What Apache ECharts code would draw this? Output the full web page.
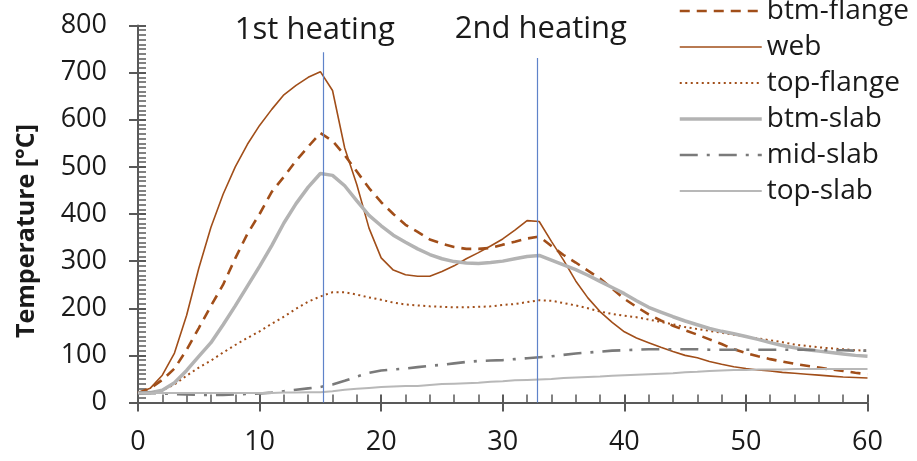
<!DOCTYPE html>
<html>
<head>
<meta charset="utf-8">
<script src="https://cdn.jsdelivr.net/npm/echarts@6/dist/echarts.min.js"></script>
<style>
  html, body { margin: 0; padding: 0; background: #fff; }
  #chart { width: 917px; height: 461px; }
</style>
</head>
<body>
<div id="chart"></div>
<script>
// Time axis (minutes) shared by every curve
const minutes = Array.from({ length: 61 }, (_, i) => i);

// Measured temperatures (°C) at each minute
const btmFlange = [20, 30, 48, 72, 112, 158, 205, 250, 306, 358, 400, 447, 479, 513, 543, 572,
  555, 525, 490, 455, 425, 400, 377, 362, 346, 337, 330, 326, 326, 328, 335, 341, 348, 352,
  332, 313, 297, 280, 263, 242, 220, 203, 187, 174, 163, 153, 144, 134, 124, 113, 105, 98,
  92, 87, 82, 78, 74, 70, 67, 63, 60];
const web = [20, 30, 58, 105, 185, 285, 372, 442, 500, 548, 588, 622, 653, 673, 690, 702,
  662, 540, 462, 370, 307, 281, 271, 268, 268, 278, 290, 305, 318, 332, 347, 366, 386, 384,
  342, 302, 258, 222, 193, 170, 150, 137, 127, 117, 108, 100, 95, 87, 81, 76, 72, 69,
  67, 64, 62, 60, 58, 56, 54, 53, 52];
const topFlange = [20, 22, 26, 38, 57, 74, 89, 106, 122, 137, 151, 167, 182, 199, 214, 225,
  234, 234, 229, 223, 218, 212, 208, 206, 204, 203, 202, 202, 203, 204, 207, 209, 213, 217,
  216, 211, 206, 200, 193, 188, 184, 181, 176, 171, 166, 160, 156, 152, 148, 144, 140, 136,
  132, 128, 123, 120, 117, 115, 113, 111, 110];
const btmSlab = [20, 21, 26, 42, 68, 98, 127, 165, 205, 247, 289, 333, 381, 422, 457, 486,
  482, 460, 428, 397, 375, 355, 340, 326, 314, 305, 299, 296, 295, 297, 300, 305, 310, 312,
  302, 292, 282, 270, 257, 244, 231, 216, 202, 192, 182, 173, 165, 157, 151, 146, 140, 134,
  127, 121, 116, 112, 109, 106, 103, 100, 98];
const midSlab = [20, 20, 19, 18, 17, 16, 16, 16, 17, 18, 19, 21, 24, 27, 30, 33,
  38, 46, 55, 63, 68, 70, 72, 75, 78, 80, 83, 86, 88, 89, 90, 92, 94, 96,
  98, 101, 104, 106, 108, 110, 111, 112, 113, 113, 113, 113, 113, 112, 112, 112, 112, 112,
  112, 112, 112, 112, 111, 111, 111, 110, 110];
const topSlab = [20, 20, 20, 20, 20, 20, 20, 20, 20, 20, 20, 20, 21, 21, 22, 22,
  24, 27, 29, 31, 33, 34, 35, 35, 37, 39, 40, 41, 42, 44, 45, 47, 48, 49,
  50, 52, 53, 54, 55, 57, 58, 59, 60, 61, 62, 64, 65, 67, 68, 69, 69, 70,
  70, 70, 71, 71, 71, 71, 71, 71, 71];

// End of each heating phase (minutes) and its caption
const heatingEnds = [15.2, 32.8];
const heatingTops = [743, 731];
const heatingLabels = ['1st heating', '2nd heating'];

const FONT = '"Open Sans", "Noto Sans", sans-serif';
const BROWN = '#a14e19';
const AXIS = '#595959';

const pairs = arr => minutes.map((t, i) => [t, arr[i]]);

// Line styles for each curve (also reused by its legend entry)
const styles = {
  'btm-flange': { color: BROWN, width: 2.6, type: [10, 7] },
  'web': { color: BROWN, width: 1.6, type: 'solid' },
  'top-flange': { color: BROWN, width: 2, type: [2, 3.5] },
  'btm-slab': { color: '#b3b3b3', width: 3.5, type: 'solid' },
  'mid-slab': { color: '#7a7a7a', width: 2.6, type: [18, 9, 3, 9] },
  'top-slab': { color: '#b8b8b8', width: 2, type: 'solid' }
};

function curve(name, data) {
  const s = styles[name];
  return {
    name, type: 'line', data: pairs(data), showSymbol: false, symbol: 'none',
    smooth: false, silent: true, animation: false,
    lineStyle: { color: s.color, width: s.width, type: s.type, cap: 'butt' },
    itemStyle: { color: s.color },
    z: 3
  };
}

const series = [
  curve('btm-flange', btmFlange),
  curve('web', web),
  curve('top-flange', topFlange),
  curve('btm-slab', btmSlab),
  curve('mid-slab', midSlab),
  curve('top-slab', topSlab)
];

// Vertical markers at the end of each heating phase
series.push({
  name: 'phases', type: 'line', data: [], silent: true, animation: false,
  markLine: {
    silent: true, symbol: 'none', animation: false,
    lineStyle: { color: '#5f83c9', width: 1.2, type: 'solid' },
    data: heatingEnds.map((t, i) => [
      { coord: [t, 0], label: { show: true, position: 'end', formatter: heatingLabels[i],
          distance: i === 0 ? 7 : 13, offset: [i === 0 ? -8 : 4, 0],
          color: '#1a1a1a', fontSize: 31, fontFamily: FONT } },
      { coord: [t, heatingTops[i]] }
    ])
  }
});

const chart = echarts.init(document.getElementById('chart'), null, { renderer: 'canvas' });
chart.setOption({
  animation: false,
  backgroundColor: '#ffffff',
  grid: { left: 138, right: 49.5, top: 25.5, bottom: 58.5, containLabel: false },
  legend: {
    show: true,
    orient: 'vertical', left: 673, top: -8,
    itemWidth: 82, itemHeight: 14, itemGap: 8,
    itemStyle: { opacity: 0 },
    textStyle: { fontSize: 28, fontFamily: FONT, color: '#1a1a1a' },
    data: Object.keys(styles).map(name => ({
      name,
      lineStyle: { width: styles[name].width, type: styles[name].type, color: styles[name].color }
    }))
  },
  xAxis: [
    {
      type: 'value', min: 0, max: 60, interval: 10,
      axisLine: { lineStyle: { color: AXIS, width: 2 } },
      axisTick: { inside: true, length: 8, lineStyle: { color: AXIS, width: 2 } },
      minorTick: { show: true, splitNumber: 5, length: 8, lineStyle: { color: AXIS, width: 1.5 } },
      axisLabel: { margin: 26, fontSize: 27, fontFamily: FONT, color: '#1a1a1a' },
      splitLine: { show: false }
    },
    {
      type: 'value', min: 0, max: 60, interval: 10, position: 'bottom',
      axisLine: { show: false },
      axisTick: { inside: false, length: 9, lineStyle: { color: AXIS, width: 2 } },
      axisLabel: { show: false },
      splitLine: { show: false }
    }
  ],
  yAxis: [
    {
      type: 'value', min: 0, max: 800, interval: 100,
      axisLine: { show: true, lineStyle: { color: AXIS, width: 2 } },
      axisTick: { show: true, inside: true, length: 8, lineStyle: { color: AXIS, width: 2 } },
      minorTick: { show: true, splitNumber: 10, length: 8, lineStyle: { color: AXIS, width: 1.5 } },
      axisLabel: { margin: 31, fontSize: 27, fontFamily: FONT, color: '#1a1a1a' },
      splitLine: { show: false }
    },
    {
      type: 'value', min: 0, max: 800, interval: 100, position: 'left',
      axisLine: { show: false },
      axisTick: { show: true, inside: false, length: 9, lineStyle: { color: AXIS, width: 2 } },
      axisLabel: { show: false },
      splitLine: { show: false }
    }
  ],
  graphic: [{
    type: 'text', x: 27, y: 231, rotation: Math.PI / 2,
    style: {
      text: 'Temperature [°C]', fontSize: 25, fontWeight: 'bold', fontFamily: FONT,
      fill: '#1a1a1a', align: 'center', verticalAlign: 'middle'
    }
  }],
  series
});
</script>
</body>
</html>
